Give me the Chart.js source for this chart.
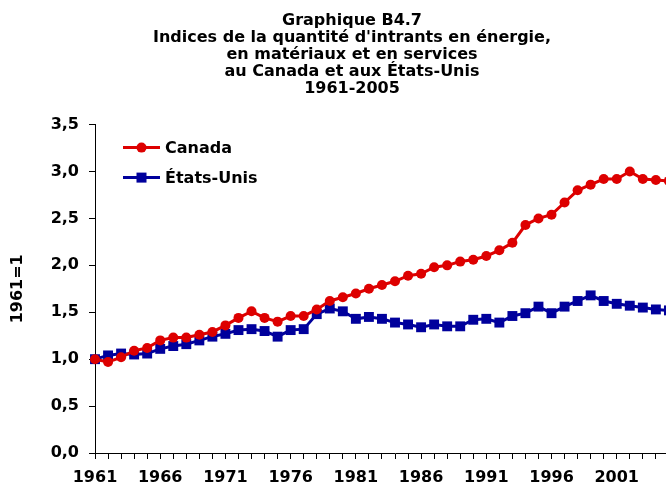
<!DOCTYPE html>
<html>
<head>
<meta charset="utf-8">
<script src="https://cdn.jsdelivr.net/npm/chart.js@4.4.1/dist/chart.umd.min.js"></script>
<style>
    html, body { margin: 0; padding: 0; background: #fff; overflow: hidden; }
    #wrap { width: 704px; height: 490px; }
</style>
</head>
<body>
<div id="wrap"><canvas id="chart" width="704" height="490"></canvas></div>
<script>
const years = [];
for (let y = 1961; y <= 2005; y++) years.push(y);

const canada = [1.00, 0.97, 1.02, 1.09, 1.12, 1.20, 1.23, 1.23, 1.26, 1.29,
                1.36, 1.44, 1.51, 1.44, 1.40, 1.46, 1.46, 1.53, 1.62, 1.66,
                1.70, 1.75, 1.79, 1.83, 1.89, 1.91, 1.98, 2.00, 2.04, 2.06,
                2.10, 2.16, 2.24, 2.43, 2.50, 2.54, 2.67, 2.80, 2.86, 2.92,
                2.92, 3.00, 2.92, 2.91, 2.90];
const etatsUnis = [1.00, 1.04, 1.06, 1.05, 1.06, 1.11, 1.14, 1.16, 1.20, 1.24,
                   1.27, 1.31, 1.32, 1.30, 1.24, 1.31, 1.32, 1.48, 1.54, 1.51,
                   1.43, 1.45, 1.43, 1.39, 1.37, 1.34, 1.37, 1.35, 1.35, 1.42,
                   1.43, 1.39, 1.46, 1.49, 1.56, 1.49, 1.56, 1.62, 1.68, 1.62,
                   1.59, 1.57, 1.55, 1.53, 1.52];
const yTicks = [0, 0.5, 1, 1.5, 2, 2.5, 3, 3.5];

const titleLines = ['Graphique B4.7',
    "Indices de la quantité d'intrants en énergie,",
    'en matériaux et en services',
    'au Canada et aux États-Unis',
    '1961-2005'];

const RED = '#DD0000';
const BLUE = '#00009C';
const FONT = '"DejaVu Sans", Verdana, sans-serif';

function toPoints(values) {
    return values.map((v, i) => ({x: years[i], y: v}));
}

// legend in the upper-left corner of the plot: line sample with marker + label
const insideLegend = {
    id: 'insideLegend',
    afterDraw(chart) {
        const ctx = chart.ctx;
        const area = chart.chartArea;
        ctx.save();
        chart.data.datasets.forEach((ds, i) => {
            const y = area.top + 23 + i * 30;
            const x0 = area.left + 28;
            ctx.strokeStyle = ds.borderColor;
            ctx.lineWidth = 3;
            ctx.beginPath();
            ctx.moveTo(x0, y);
            ctx.lineTo(x0 + 37, y);
            ctx.stroke();
            ctx.fillStyle = ds.pointBackgroundColor;
            if (ds.pointStyle === 'rect') {
                ctx.fillRect(x0 + 18.5 - 5, y - 5, 10, 10);
            } else {
                ctx.beginPath();
                ctx.arc(x0 + 18.5, y, 5, 0, Math.PI * 2);
                ctx.fill();
            }
            ctx.fillStyle = '#000';
            ctx.font = 'bold 16px ' + FONT;
            ctx.textBaseline = 'middle';
            ctx.fillText(ds.label, x0 + 42, y + 1);
        });
        ctx.restore();
    }
};

new Chart(document.getElementById('chart'), {
    type: 'line',
    data: {
        datasets: [{
            label: 'Canada',
            data: toPoints(canada),
            borderColor: RED,
            backgroundColor: RED,
            pointBackgroundColor: RED,
            pointBorderColor: RED,
            borderWidth: 3,
            pointStyle: 'circle',
            pointRadius: 5,
            pointBorderWidth: 0,
            tension: 0
        }, {
            label: 'États-Unis',
            data: toPoints(etatsUnis),
            borderColor: BLUE,
            backgroundColor: BLUE,
            pointBackgroundColor: BLUE,
            pointBorderColor: BLUE,
            borderWidth: 3,
            pointStyle: 'rect',
            pointRadius: 7,
            pointBorderWidth: 0,
            tension: 0
        }]
    },
    options: {
        responsive: false,
        animation: false,
        layout: { padding: 0 },
        clip: false,
        scales: {
            x: {
                type: 'linear',
                min: 1961,
                max: 2007,
                afterFit(scale) { scale.height = 37; },
                border: { color: '#000', width: 1 },
                grid: { display: true, drawOnChartArea: false, drawTicks: true, tickLength: 6, color: '#000' },
                ticks: {
                    stepSize: 1,
                    includeBounds: false,
                    autoSkip: false,
                    maxRotation: 0,
                    padding: 9,
                    color: '#000',
                    font: { family: FONT, size: 16, weight: 'bold' },
                    callback: (v) => ((v - 1961) % 5 === 0 && v <= 2005 ? String(v) : '')
                }
            },
            y: {
                min: 0,
                max: 3.5,
                afterFit(scale) { scale.width = 95; },
                afterBuildTicks(scale) { scale.ticks = yTicks.map(v => ({value: v})); },
                border: { color: '#000', width: 1 },
                grid: { display: true, drawOnChartArea: false, drawTicks: true, tickLength: 6, color: '#000' },
                ticks: {
                    padding: 10,
                    color: '#000',
                    font: { family: FONT, size: 16, weight: 'bold' },
                    callback: (v) => v.toFixed(1).replace('.', ',')
                },
                title: {
                    display: true,
                    text: '1961=1',
                    color: '#000',
                    padding: { top: 8, bottom: 0 },
                    font: { family: FONT, size: 16, weight: 'bold' }
                }
            }
        },
        plugins: {
            legend: { display: false },
            tooltip: { enabled: false },
            title: {
                display: true,
                text: titleLines,
                color: '#000',
                padding: { top: 12, bottom: 27 },
                font: { family: FONT, size: 16, weight: 'bold', lineHeight: 1.07 }
            }
        }
    },
    plugins: [insideLegend]
});
</script>
</body>
</html>
